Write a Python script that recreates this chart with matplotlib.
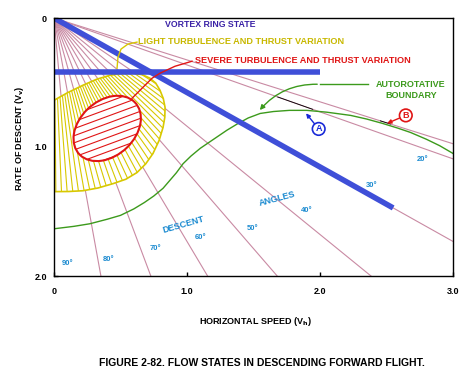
import numpy as np
import matplotlib
matplotlib.use('Agg')
import matplotlib.pyplot as plt
from matplotlib.patches import Polygon, Ellipse

plt.rcParams['font.family'] = ['Liberation Sans', 'DejaVu Sans']
plt.rcParams['font.weight'] = 'bold'

# descent angle lines (degrees), drawn from the origin
long_angles = [80, 70, 60, 50, 40, 30, 20, 18]
short_angles = [85, 75, 65, 55, 45, 35]
angle_labels = ['90°', '80°', '70°', '60°', '50°', '40°', '30°', '20°']
angle_label_x = [0.10, 0.41, 0.76, 1.10, 1.49, 1.90, 2.39, 2.77]
angle_label_y = [1.90, 1.87, 1.79, 1.70, 1.63, 1.49, 1.30, 1.10]

# autorotative boundary
auto_x = [0.0, 0.15, 0.27, 0.40, 0.50, 0.60, 0.68, 0.75, 0.82, 0.87, 0.92, 0.97, 1.03,
          1.10, 1.20, 1.30, 1.38, 1.46, 1.55, 1.65, 1.77, 1.90, 2.05, 2.23, 2.35, 2.47,
          2.58, 2.68, 2.80, 2.90, 3.0]
auto_y = [1.634, 1.615, 1.595, 1.56, 1.53, 1.48, 1.43, 1.38, 1.32, 1.26, 1.20, 1.13, 1.07,
          1.01, 0.94, 0.87, 0.82, 0.775, 0.74, 0.725, 0.716, 0.716, 0.73, 0.755, 0.783, 0.817,
          0.852, 0.887, 0.94, 0.99, 1.05]

# light turbulence region outline
light_x = [0.0, 0.10, 0.218, 0.32, 0.421, 0.51, 0.594, 0.665, 0.722, 0.765, 0.797, 0.822,
           0.835, 0.833, 0.820, 0.79, 0.744, 0.69, 0.624, 0.54, 0.444, 0.33, 0.218, 0.11, 0.0]
light_y = [0.638, 0.58, 0.521, 0.475, 0.444, 0.43, 0.428, 0.44, 0.467, 0.505, 0.560, 0.625,
           0.693, 0.77, 0.848, 0.95, 1.051, 1.13, 1.198, 1.25, 1.284, 1.318, 1.339, 1.345, 1.346]

# severe turbulence region (ellipse)
severe_center = (0.40, 0.856)
severe_width = 0.58
severe_height = 0.42
severe_angle = -45

vortex_y = 0.42          # vortex ring state horizontal limit
vortex_x_end = 2.0
vortex_diag_end = 2.55   # along the 30 degree line

fig = plt.figure(figsize=(4.73, 3.88), dpi=100)
ax = fig.add_axes([54 / 473, 1 - 276 / 388, 399 / 473, 258 / 388])
ax.set_xlim(0, 3.0)
ax.set_ylim(2.0, 0)

pink = '#c98aa3'
yellow = '#d8c800'
red = '#e01515'
green = '#3c9a1c'
blue = '#3f4fd8'
lblue = '#1a8ad0'

# angle lines
for a in long_angles:
    t = np.radians(a)
    r = 4.0
    ax.plot([0, r * np.cos(t)], [0, r * np.sin(t)], color=pink, lw=0.8, zorder=1)
for a in short_angles:
    t = np.radians(a)
    r = 0.7
    ax.plot([0, r * np.cos(t)], [0, r * np.sin(t)], color=pink, lw=0.8, zorder=1)

# black tangent segments near A and B
for a, r0, r1 in [(20, 1.79, 2.07), (18, 2.58, 2.66)]:
    t = np.radians(a)
    ax.plot([r0 * np.cos(t), r1 * np.cos(t)], [r0 * np.sin(t), r1 * np.sin(t)],
            color='black', lw=0.6, zorder=2)

# light turbulence region, radial hatch
light = Polygon(np.column_stack([light_x, light_y]), closed=True, facecolor='white',
                edgecolor=yellow, lw=1.2, zorder=3)
ax.add_patch(light)
for a in np.arange(30, 90, 1.8):
    t = np.radians(a)
    ln, = ax.plot([0, 3 * np.cos(t)], [0, 3 * np.sin(t)], color=yellow, lw=0.8, zorder=4)
    ln.set_clip_path(light)

# severe turbulence region
sev = Ellipse(severe_center, severe_width, severe_height, angle=severe_angle,
              facecolor='white', edgecolor='none', zorder=5)
ax.add_patch(sev)
for c in np.arange(0.2, 1.6, 0.055):
    xs = np.array([0.0, 1.0])
    ln, = ax.plot(xs, c - 0.38 * xs, color=red, lw=0.8, zorder=6)
    ln.set_clip_path(sev)
ax.add_patch(Ellipse(severe_center, severe_width, severe_height, angle=severe_angle,
                     facecolor='none', edgecolor=red, lw=1.5, zorder=7))

# autorotative boundary
ax.plot(auto_x, auto_y, color=green, lw=1.0, zorder=8)

# vortex ring state limits
t30 = np.radians(30)
ax.plot([0, vortex_x_end], [vortex_y, vortex_y], color=blue, lw=4, solid_capstyle='butt', zorder=9)
ax.plot([0, vortex_diag_end], [0, vortex_diag_end * np.tan(t30)], color=blue, lw=4,
        solid_capstyle='butt', zorder=9)

# labels and leaders
ax.text(0.835, 0.054, 'VORTEX RING STATE', color='#3a22a6', fontsize=6.3, va='center', zorder=10)
ax.text(0.632, 0.179, 'LIGHT TURBULENCE AND THRUST VARIATION', color='#c8b800', fontsize=6.6,
        va='center', zorder=10)
ax.plot([0.624, 0.556, 0.504, 0.481, 0.474], [0.187, 0.202, 0.241, 0.304, 0.389],
        color=yellow, lw=1.0, zorder=10)
ax.text(1.06, 0.327, 'SEVERE TURBULENCE AND THRUST VARIATION', color=red, fontsize=6.6,
        va='center', zorder=10)
ax.plot([1.038, 0.910, 0.797, 0.737, 0.586], [0.335, 0.374, 0.428, 0.467, 0.623],
        color=red, lw=1.0, zorder=10)
ax.text(2.684, 0.514, 'AUTOROTATIVE', color=green, fontsize=6.5, ha='center', va='center', zorder=10)
ax.text(2.684, 0.599, 'BOUNDARY', color=green, fontsize=6.5, ha='center', va='center', zorder=10)
ax.plot([2.36, 2.0], [0.514, 0.514], color=green, lw=1.0, zorder=10)
ax.annotate('', xy=(1.534, 0.73), xytext=(2.0, 0.514),
            arrowprops=dict(arrowstyle='-|>', color=green, lw=1.0, mutation_scale=7,
                            connectionstyle='arc3,rad=0.25'), zorder=10)

for lab, tx, ty, hx, hy, col in [('A', 1.99, 0.86, 1.895, 0.739, '#1a2ad8'),
                                  ('B', 2.645, 0.755, 2.504, 0.817, red)]:
    ax.annotate('', xy=(hx, hy), xytext=(tx, ty),
                arrowprops=dict(arrowstyle='-|>', color=col, lw=1.0, mutation_scale=6,
                                shrinkA=3.5, shrinkB=0), zorder=10)
    ax.text(tx, ty, lab, color=col, fontsize=6.5, ha='center', va='center', zorder=11,
            bbox=dict(boxstyle='circle,pad=0.2', fc='white', ec=col, lw=1.2))

for lab, lx, ly in zip(angle_labels, angle_label_x, angle_label_y):
    ax.text(lx, ly, lab, color=lblue, fontsize=5.5, ha='center', va='center', zorder=10)
ax.text(0.97, 1.603, 'DESCENT', color=lblue, fontsize=6.5, rotation=16, ha='center',
        va='center', zorder=10)
ax.text(1.677, 1.40, 'ANGLES', color=lblue, fontsize=6.5, rotation=15, ha='center',
        va='center', zorder=10)

# axes
ax.set_xticks([0, 1.0, 2.0, 3.0])
ax.set_xticklabels(['0', '1.0', '2.0', '3.0'])
ax.set_yticks([0, 1.0, 2.0])
ax.set_yticklabels(['0', '1.0', '2.0'])
ax.tick_params(direction='in', length=3, width=1, labelsize=6.5, colors='black')
ax.tick_params(axis='x', pad=8)
ax.tick_params(axis='y', pad=5)
for s in ax.spines.values():
    s.set_linewidth(1.0)
    s.set_zorder(12)

fig.text(20 / 473, 1 - 138 / 388, 'RATE OF DESCENT (V$_\\mathbf{v}$)', rotation=90,
         fontsize=6.5, ha='center', va='center')
fig.text(255 / 473, 1 - 322 / 388, 'HORIZONTAL SPEED (V$_\\mathbf{h}$)', fontsize=6.5,
         ha='center', va='center')
fig.text(262 / 473, 1 - 363 / 388, 'FIGURE 2-82. FLOW STATES IN DESCENDING FORWARD FLIGHT.',
         fontsize=7.5, ha='center', va='center')

fig.savefig('out.png', dpi=100)
